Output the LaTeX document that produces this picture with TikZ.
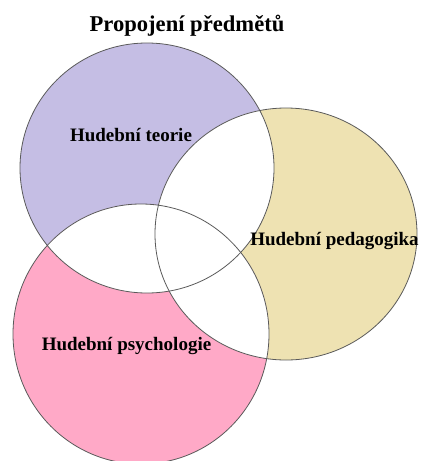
\documentclass[tikz,border=0pt]{standalone}
\usepackage{fontspec}
\setmainfont{Liberation Serif}
\definecolor{lav}{RGB}{197,190,228}
\definecolor{khaki}{RGB}{238,226,178}
\definecolor{pinkc}{RGB}{255,169,199}
\definecolor{edge}{RGB}{90,90,90}
\tikzset{
  lbl/.style={font=\bfseries\fontsize{19}{22}\selectfont, anchor=base, inner sep=0pt},
  ttl/.style={font=\bfseries\fontsize{22.6}{26}\selectfont, anchor=base, inner sep=0pt},
  outl/.style={draw=edge, line width=0.8pt}
}
\begin{document}
\begin{tikzpicture}[x=1pt,y=-1pt]
\useasboundingbox (0,0) rectangle (421,461);
\def\ea{(147,168) ellipse [x radius=127, y radius=125]}
\def\eb{(286,234) ellipse [x radius=131, y radius=126]}
\def\ec{(141,334) ellipse [x radius=128, y radius=130]}
\fill[lav] \ea;
\fill[khaki] \eb;
\fill[pinkc] \ec;
\begin{scope}
  \clip \ea;
  \fill[white] \eb;
  \fill[white] \ec;
\end{scope}
\begin{scope}
  \clip \eb;
  \fill[white] \ec;
\end{scope}
\draw[outl] \ea;
\draw[outl] \eb;
\draw[outl] \ec;
\node[ttl] (title) at (187,31) {Propojení předmětů};
\node[lbl] (teorie) at (131,141.5) {Hudební teorie};
\node[lbl] (pedag) at (334.5,245.5) {Hudební pedagogika};
\node[lbl] (psych) at (126.5,350) {Hudební psychologie};
\end{tikzpicture}
\end{document}
